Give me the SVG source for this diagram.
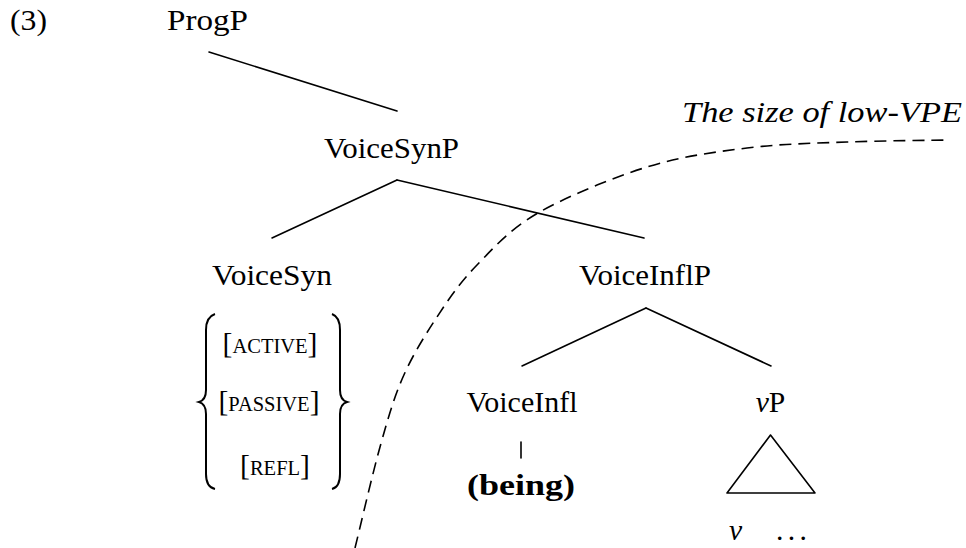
<svg xmlns="http://www.w3.org/2000/svg" width="966" height="548" viewBox="0 0 966 548" font-family="'Liberation Serif', 'DejaVu Serif', 'Times New Roman', serif">
<style>
  .lbl { font-size: 29.6px; text-anchor: middle; }
  .sc { font-size: 20.5px; }
  .it { font-style: italic; }
  .edge { stroke: #000; stroke-width: 1.6; fill: none; stroke-linecap: round; }
  .brace { stroke: #000; stroke-width: 2; fill: none; }
  .dash { stroke: #000; stroke-width: 1.6; fill: none; stroke-dasharray: 12 7; }
</style>
<rect width="966" height="548" fill="#fff"/>

<g id="exnum"><text x="10" y="30" font-size="29.6" textLength="37" lengthAdjust="spacingAndGlyphs">(3)</text></g>

<g id="connectors">
  <line class="edge" x1="209" y1="52" x2="397" y2="111"/>
  <line class="edge" x1="397" y1="180" x2="272" y2="238"/>
  <line class="edge" x1="397" y1="180" x2="644" y2="238"/>
  <line class="edge" x1="646" y1="308" x2="522" y2="366"/>
  <line class="edge" x1="646" y1="308" x2="771" y2="366"/>
  <line class="edge" x1="521" y1="442" x2="521" y2="458"/>
</g>

<g id="ProgP"><text class="lbl" x="207.5" y="30" textLength="81" lengthAdjust="spacingAndGlyphs">ProgP</text></g>
<g id="VoiceSynP"><text class="lbl" x="391.5" y="158" textLength="135" lengthAdjust="spacingAndGlyphs">VoiceSynP</text></g>
<g id="VoiceSyn"><text class="lbl" x="272" y="285" textLength="120" lengthAdjust="spacingAndGlyphs">VoiceSyn</text></g>
<g id="VoiceInflP"><text class="lbl" x="645" y="285" textLength="132" lengthAdjust="spacingAndGlyphs">VoiceInflP</text></g>

<g id="features">
  <path class="brace" d="M215,314 Q206,317 206,330 L206,390 Q206,400 199,402 Q206,404 206,414 L206,474 Q206,487 215,489"/>
  <path class="brace" d="M332,314 Q340,317 340,330 L340,390 Q340,400 347,402 Q340,404 340,414 L340,474 Q340,487 332,489"/>
  <text x="270" y="353" font-size="29.6" text-anchor="middle">[<tspan class="sc">ACTIVE</tspan>]</text>
  <text x="269" y="411" font-size="29.6" text-anchor="middle">[<tspan class="sc">PASSIVE</tspan>]</text>
  <text x="275" y="475" font-size="29.6" text-anchor="middle">[<tspan class="sc">REFL</tspan>]</text>
</g>

<g id="VoiceInfl"><text class="lbl" x="522" y="412" textLength="111" lengthAdjust="spacingAndGlyphs">VoiceInfl</text></g>
<g id="being"><text class="lbl" x="521" y="495" font-weight="bold" textLength="108" lengthAdjust="spacingAndGlyphs">(being)</text></g>

<g id="vP">
  <text class="lbl" x="770.5" y="412"><tspan class="it">v</tspan>P</text>
  <polygon points="770.5,435 727,493 815,493" fill="none" stroke="#000" stroke-width="1.6" stroke-linejoin="round"/>
  <text x="729" y="540" font-size="29.6" class="it">v</text>
  <text x="776" y="540" font-size="29.6" textLength="31" lengthAdjust="spacing">...</text>
</g>

<g id="lowVPE">
  <path class="dash" d="M355,548 C359.2,531.2 372,475.5 380,447 C388,418.5 393.5,398.7 403,377 C412.5,355.3 424.7,335.7 437,317 C449.3,298.3 460.2,282.3 477,265 C493.8,247.7 509.7,229.3 538,213 C566.3,196.7 612.2,177.8 647,167 C681.8,156.2 713.7,152.2 747,148 C780.3,143.8 813.2,143.3 847,142 C880.8,140.7 932.8,140.3 950,140"/>
  <text x="962" y="122" font-size="29.6" class="it" text-anchor="end" textLength="280" lengthAdjust="spacingAndGlyphs">The size of low-VPE</text>
</g>
</svg>
